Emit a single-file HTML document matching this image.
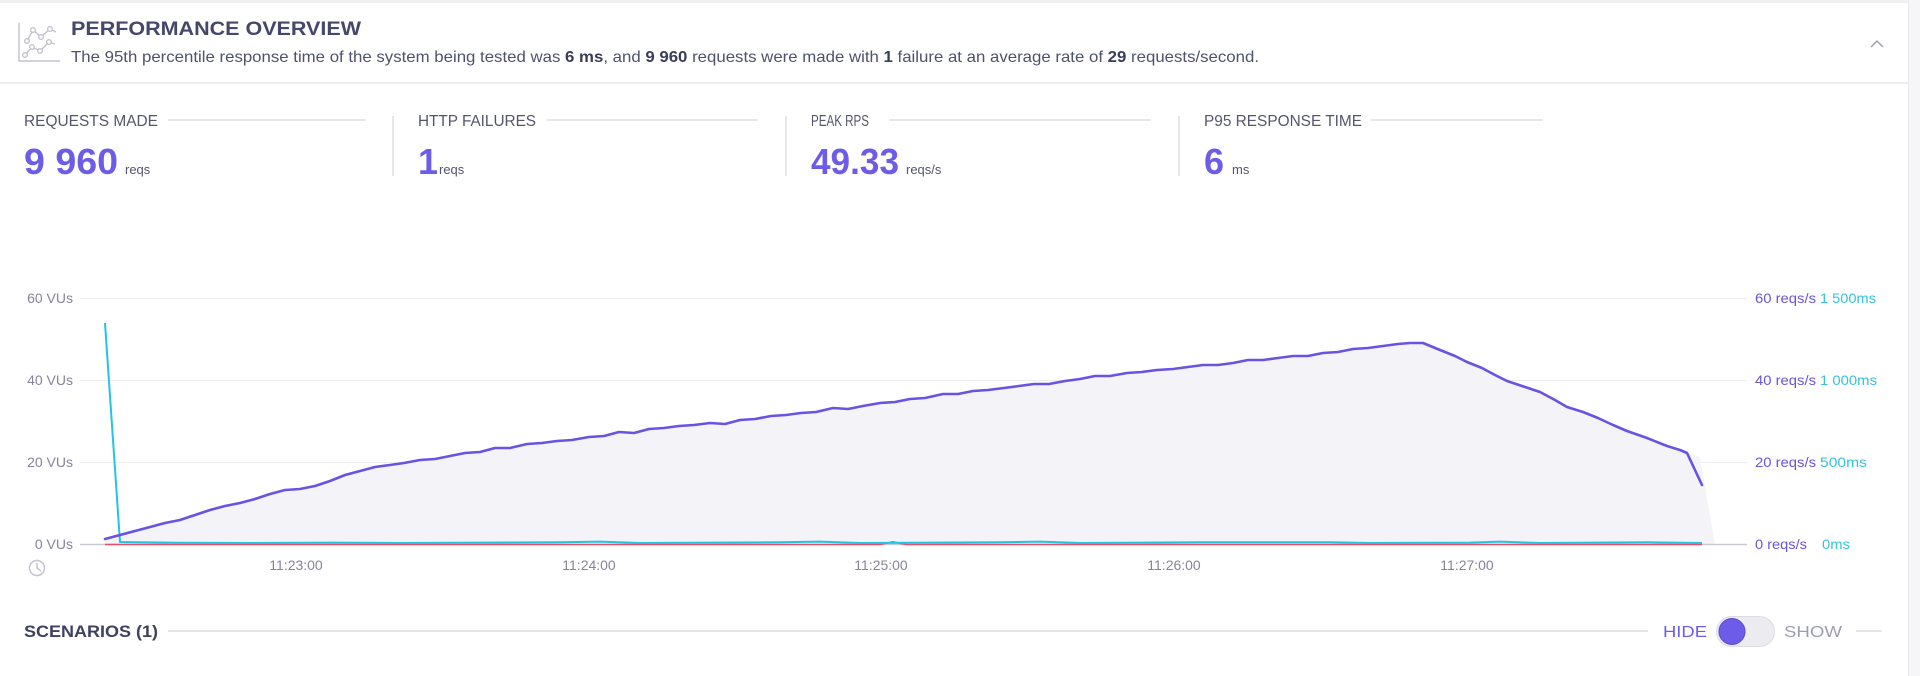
<!DOCTYPE html>
<html>
<head>
<meta charset="utf-8">
<style>
  html, body { margin: 0; padding: 0; background: #ffffff; }
  body { width: 1920px; height: 676px; overflow: hidden; }
  svg { display: block; font-family: "Liberation Sans", "DejaVu Sans", sans-serif; }
</style>
</head>
<body>
<svg width="1920" height="676" viewBox="0 0 1920 676" xmlns="http://www.w3.org/2000/svg">
  <!-- background -->
  <rect x="0" y="0" width="1920" height="676" fill="#ffffff"/>
  <rect x="1908" y="0" width="12" height="676" fill="#f6f6f9"/>
  <line x1="1908.5" y1="0" x2="1908.5" y2="676" stroke="#e9e9ee" stroke-width="1"/>
  <rect x="0" y="0" width="1908" height="3" fill="#efeff2"/>

  <!-- header -->
  <g fill="none" stroke="#c3c3cf" stroke-width="1.4">
    <polyline points="19,23 19,61 60,61"/>
    <polyline points="27,41 33,30 41,37 50,29 56,32"/>
    <polyline points="25,55 32,47 40,51 49,42 55,44"/>
    <circle cx="33" cy="30" r="2.3" fill="#fff"/>
    <circle cx="41" cy="37" r="2.3" fill="#fff"/>
    <circle cx="50" cy="29" r="2.3" fill="#fff"/>
    <circle cx="27" cy="41" r="2.3" fill="#fff"/>
    <circle cx="32" cy="47" r="2.3" fill="#fff"/>
    <circle cx="40" cy="51" r="2.3" fill="#fff"/>
    <circle cx="49" cy="42" r="2.3" fill="#fff"/>
    <circle cx="25" cy="55" r="2.3" fill="#fff"/>
  </g>
  <text x="71" y="35" font-size="19.5" font-weight="bold" fill="#454868" textLength="290" lengthAdjust="spacingAndGlyphs">PERFORMANCE OVERVIEW</text>
  <text x="71" y="62" font-size="16" fill="#4f526b" textLength="1188" lengthAdjust="spacingAndGlyphs">The 95th percentile response time of the system being tested was <tspan font-weight="bold" fill="#3a3d58">6 ms</tspan>, and <tspan font-weight="bold" fill="#3a3d58">9 960</tspan> requests were made with <tspan font-weight="bold" fill="#3a3d58">1</tspan> failure at an average rate of <tspan font-weight="bold" fill="#3a3d58">29</tspan> requests/second.</text>
  <polyline points="1871,47 1877,41 1883,47" fill="none" stroke="#a0a0b0" stroke-width="1.5"/>
  <rect x="0" y="82" width="1908" height="2" fill="#ececf0"/>

  <!-- stats -->
  <g font-size="15.5" fill="#55566c">
    <text x="24" y="126" textLength="134" lengthAdjust="spacingAndGlyphs">REQUESTS MADE</text>
    <text x="418" y="126" textLength="118" lengthAdjust="spacingAndGlyphs">HTTP FAILURES</text>
    <text x="811" y="126" textLength="58" lengthAdjust="spacingAndGlyphs">PEAK RPS</text>
    <text x="1204" y="126" textLength="158" lengthAdjust="spacingAndGlyphs">P95 RESPONSE TIME</text>
  </g>
  <g stroke="#e6e6eb" stroke-width="2">
    <line x1="168" y1="120" x2="366" y2="120"/>
    <line x1="547" y1="120" x2="758" y2="120"/>
    <line x1="889" y1="120" x2="1151" y2="120"/>
    <line x1="1371" y1="120" x2="1543" y2="120"/>
    <line x1="393" y1="116" x2="393" y2="176"/>
    <line x1="786" y1="116" x2="786" y2="176"/>
    <line x1="1179" y1="116" x2="1179" y2="176"/>
  </g>
  <g font-size="36" font-weight="bold" fill="#6d5ce8">
    <text x="24" y="174" textLength="94" lengthAdjust="spacingAndGlyphs">9 960</text>
    <text x="418" y="174">1</text>
    <text x="811" y="174" textLength="88" lengthAdjust="spacingAndGlyphs">49.33</text>
    <text x="1204" y="174">6</text>
  </g>
  <g font-size="13" fill="#55566c">
    <text x="125" y="174">reqs</text>
    <text x="439" y="174">reqs</text>
    <text x="906" y="174">reqs/s</text>
    <text x="1232" y="174">ms</text>
  </g>

  <!-- chart grid -->
  <g stroke="#ededf1" stroke-width="1">
    <line x1="80" y1="298.5" x2="1747" y2="298.5"/>
    <line x1="80" y1="380.5" x2="1747" y2="380.5"/>
    <line x1="80" y1="462.5" x2="1747" y2="462.5"/>
  </g>

  <!-- VU area -->
  <polygon fill="#f4f4f8" points="105,539 120,535 135,531 150,527 165,523 180,520 195,515 210,510 225,506 240,503 255,499 270,494 285,490 300,489 315,486 330,481 345,475 360,471 375,467 390,465 404,463 420,460 435,459 450,456 465,453 480,452 495,448 510,448 527,444 542,443 557,441 572,440 589,437 604,436 619,432 634,433 649,429 664,428 679,426 694,425 710,423 725,424 740,420 755,419 771,416 786,415 801,413 816,412 833,408 848,409 863,406 880,403 895,402 910,399 925,398 943,394 958,394 973,391 988,390 1004,388 1019,386 1034,384 1049,384 1065,381 1080,379 1095,376 1110,376 1127,373 1142,372 1157,370 1173,369 1188,367 1203,365 1218,365 1233,363 1248,360 1263,360 1278,358 1293,356 1308,356 1323,353 1338,352 1353,349 1368,348 1383,346 1398,344 1410,343 1423,343 1440,350 1455,356 1467,362 1482,368 1495,375 1507,381 1522,386 1540,392 1555,400 1567,407 1583,412 1598,418 1613,425 1627,431 1647,438 1667,446 1680,450 1687,453 1700,457 1715,544 105,544"/>

  <!-- baseline -->
  <line x1="80" y1="544.5" x2="1747" y2="544.5" stroke="#c9c9d2" stroke-width="1.5"/>

  <!-- red series -->
  <polyline fill="none" stroke="#e8506a" stroke-width="1.6" points="105,544.5 880,544.5 893,541.8 906,544.5 1702,544.5"/>
  <!-- cyan series -->
  <polyline fill="none" stroke="#22c4e4" stroke-width="2" stroke-linejoin="round" points="105,323 120,542 180,542.8 250,543 330,542.6 400,543 560,542.3 600,541.6 640,543 780,542.3 820,541.6 860,543 1000,542.3 1040,541.6 1080,543 1200,542.3 1330,542.3 1370,543 1470,542.6 1500,541.6 1540,543 1650,542.3 1702,543"/>
  <!-- purple series -->
  <polyline fill="none" stroke="#6a52e2" stroke-width="2.6" stroke-linejoin="round" stroke-linecap="round" points="105,539 120,535 135,531 150,527 165,523 180,520 195,515 210,510 225,506 240,503 255,499 270,494 285,490 300,489 315,486 330,481 345,475 360,471 375,467 390,465 404,463 420,460 435,459 450,456 465,453 480,452 495,448 510,448 527,444 542,443 557,441 572,440 589,437 604,436 619,432 634,433 649,429 664,428 679,426 694,425 710,423 725,424 740,420 755,419 771,416 786,415 801,413 816,412 833,408 848,409 863,406 880,403 895,402 910,399 925,398 943,394 958,394 973,391 988,390 1004,388 1019,386 1034,384 1049,384 1065,381 1080,379 1095,376 1110,376 1127,373 1142,372 1157,370 1173,369 1188,367 1203,365 1218,365 1233,363 1248,360 1263,360 1278,358 1293,356 1308,356 1323,353 1338,352 1353,349 1368,348 1383,346 1398,344 1410,343 1423,343 1440,350 1455,356 1467,362 1482,368 1495,375 1507,381 1522,386 1540,392 1555,400 1567,407 1583,412 1598,418 1613,425 1627,431 1647,438 1667,446 1680,450 1687,453 1702,485"/>

  <!-- left axis labels -->
  <g font-size="14" fill="#85859a" text-anchor="end">
    <text x="73" y="303">60 VUs</text>
    <text x="73" y="385">40 VUs</text>
    <text x="73" y="467">20 VUs</text>
    <text x="73" y="549">0 VUs</text>
  </g>
  <!-- right axis labels -->
  <g font-size="14">
    <text x="1755" y="303" fill="#6a55d8" textLength="61" lengthAdjust="spacingAndGlyphs">60 reqs/s</text>
    <text x="1820" y="303" fill="#35c2dd" textLength="56" lengthAdjust="spacingAndGlyphs">1 500ms</text>
    <text x="1755" y="385" fill="#6a55d8" textLength="61" lengthAdjust="spacingAndGlyphs">40 reqs/s</text>
    <text x="1820" y="385" fill="#35c2dd" textLength="57" lengthAdjust="spacingAndGlyphs">1 000ms</text>
    <text x="1755" y="467" fill="#6a55d8" textLength="61" lengthAdjust="spacingAndGlyphs">20 reqs/s</text>
    <text x="1820" y="467" fill="#35c2dd" textLength="47" lengthAdjust="spacingAndGlyphs">500ms</text>
    <text x="1755" y="549" fill="#6a55d8" textLength="52" lengthAdjust="spacingAndGlyphs">0 reqs/s</text>
    <text x="1822" y="549" fill="#35c2dd" textLength="28" lengthAdjust="spacingAndGlyphs">0ms</text>
  </g>

  <!-- x axis -->
  <g fill="none" stroke="#c4c4cf" stroke-width="1.5">
    <circle cx="37" cy="568" r="7.5"/>
    <polyline points="37,563 37,568 41,571"/>
  </g>
  <g font-size="14" fill="#85859a" text-anchor="middle">
    <text x="296" y="570">11:23:00</text>
    <text x="589" y="570">11:24:00</text>
    <text x="881" y="570">11:25:00</text>
    <text x="1174" y="570">11:26:00</text>
    <text x="1467" y="570">11:27:00</text>
  </g>

  <!-- scenarios row -->
  <text x="24" y="637" font-size="17" font-weight="bold" fill="#3e4160" textLength="134" lengthAdjust="spacingAndGlyphs">SCENARIOS (1)</text>
  <line x1="168" y1="631" x2="1648" y2="631" stroke="#e4e4e9" stroke-width="2"/>
  <text x="1663" y="637" font-size="15.5" fill="#6d5ce8" textLength="44" lengthAdjust="spacingAndGlyphs">HIDE</text>
  <rect x="1716.5" y="616.5" width="58" height="30" rx="15" fill="#ebebf0" stroke="#dcdce4" stroke-width="1"/>
  <circle cx="1732" cy="631.5" r="13" fill="#6d5ce8" stroke="#5b49d2" stroke-width="1"/>
  <text x="1784" y="637" font-size="15.5" fill="#9d9db0" textLength="58" lengthAdjust="spacingAndGlyphs">SHOW</text>
  <line x1="1856" y1="631" x2="1882" y2="631" stroke="#e4e4e9" stroke-width="2"/>
</svg>
</body>
</html>
